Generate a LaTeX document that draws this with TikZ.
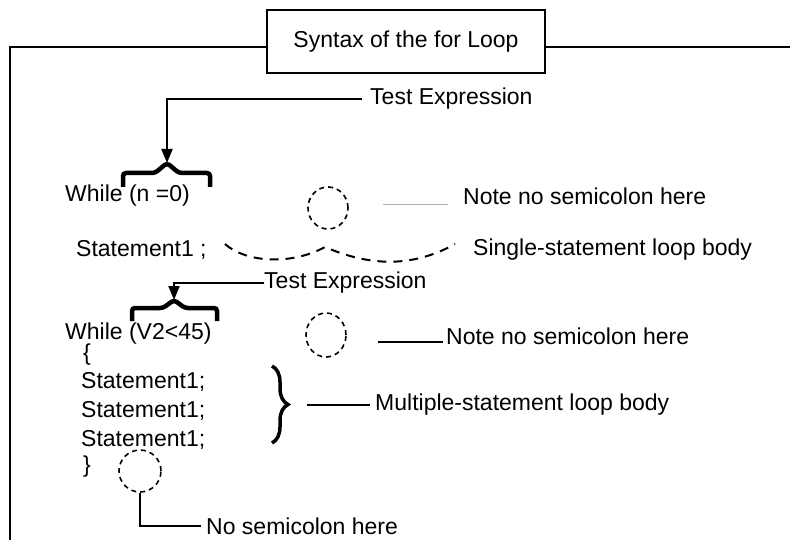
\documentclass[tikz,border=0pt]{standalone}
\usepackage{fontspec}
\setmainfont{Liberation Sans}
\usetikzlibrary{arrows.meta,decorations.pathreplacing,shapes.geometric}
\begin{document}
\begin{tikzpicture}[x=1pt,y=-1pt,
  txt/.style={font=\fontsize{23}{27}\selectfont, inner sep=0pt, anchor=west},
  frame/.style={line width=2pt},
  conn/.style={line width=2pt},
  sqbrace/.style={line width=4.5pt, rounded corners=3pt, line join=miter},
  circ/.style={ellipse, draw, dashed, line width=1.6pt, dash pattern=on 5pt off 4pt, inner sep=0pt},
  arr/.style={conn, -{Triangle[length=14pt,width=11pt]}}]
\useasboundingbox (0,0) rectangle (790,540);
% title and frame
\node[draw, line width=2pt, minimum width=278pt, minimum height=63pt, inner sep=0pt,
      font=\fontsize{23}{27}\selectfont] (title) at (406,41.5) {Syntax of the for Loop};
\coordinate (fl) at (10,47);
\coordinate (fr) at (790,47);
\coordinate (fb) at (10,540);
\draw[frame] (title.west |- fl) -- (fl) -- (fb);
\draw[frame] (title.east |- fr) -- (fr);
% first loop
\node[txt] (te1) at (370,99) {Test Expression};
\node[txt] (w1) at (65,196) {While (n =0)};
\coordinate (b1tip) at (167,163);
\draw[sqbrace] (123,187) -- (123,173) -- (155,173) -- (b1tip) -- (179,173) -- (210,173) -- (210,187);
\coordinate (a1) at (167,99);
\draw[arr] ([xshift=-8pt]te1.west) -- (a1) -- (b1tip);
\node[circ, minimum width=40pt, minimum height=42pt] (c1) at (328,208) {};
\node[txt] (n1) at (463,196) {Note no semicolon here};
\coordinate (g1) at (383,205);
\draw[line width=1pt, gray!60] (g1) -- ([xshift=-15pt]n1.west |- g1);
\node[txt] (s1) at (76,250) {Statement1 ;};
\node[txt] (sb) at (473,250) {Single-statement loop body};
\draw[line width=2pt, dash pattern=on 9pt off 7pt]
  (225,244) .. controls (245,262) and (290,266) .. (325,247)
  .. controls (360,262) and (405,272) .. (455,244);
% second loop
\node[txt] (te2) at (264,283) {Test Expression};
\coordinate (a2) at (174,283);
\coordinate (b2tip) at (174,300);
\draw[arr] (te2.west) -- (a2) -- (b2tip);
\draw[sqbrace] (132,321) -- (132,308) -- (163,308) -- (b2tip) -- (185,308) -- (217,308) -- (217,321);
\node[txt] (w2) at (65,334) {While (V2<45)};
\node[circ, minimum width=40pt, minimum height=44pt] (c2) at (326,335) {};
\node[txt] (n2) at (446,336) {Note no semicolon here};
\coordinate (l2) at (378,342);
\draw[conn] (l2) -- ([xshift=-3pt]n2.west |- l2);
\node[txt] (ob) at (83,355) {\{};
\node[txt] (st1) at (81,382) {Statement1;};
\node[txt] (st2) at (81,411) {Statement1;};
\node[txt] (st3) at (81,440) {Statement1;};
\node[txt] (cb) at (83,467) {\}};
\coordinate (b3t) at (272,366);
\coordinate (b3b) at (272,443);
\draw[line width=3.5pt, decorate, decoration={brace, amplitude=16pt}] (b3t) -- (b3b);
\node[txt] (mb) at (375,405) {Multiple-statement loop body};
\coordinate (l3) at (307,405);
\draw[conn] (l3) -- ([xshift=-5pt]mb.west);
\node[circ, minimum width=42pt, minimum height=42pt] (c3) at (140,471) {};
\node[txt] (ns) at (206,526) {No semicolon here};
\draw[conn] (c3.south) -- (c3.south |- ns.west) -- ([xshift=-5pt]ns.west);
\end{tikzpicture}
\end{document}
